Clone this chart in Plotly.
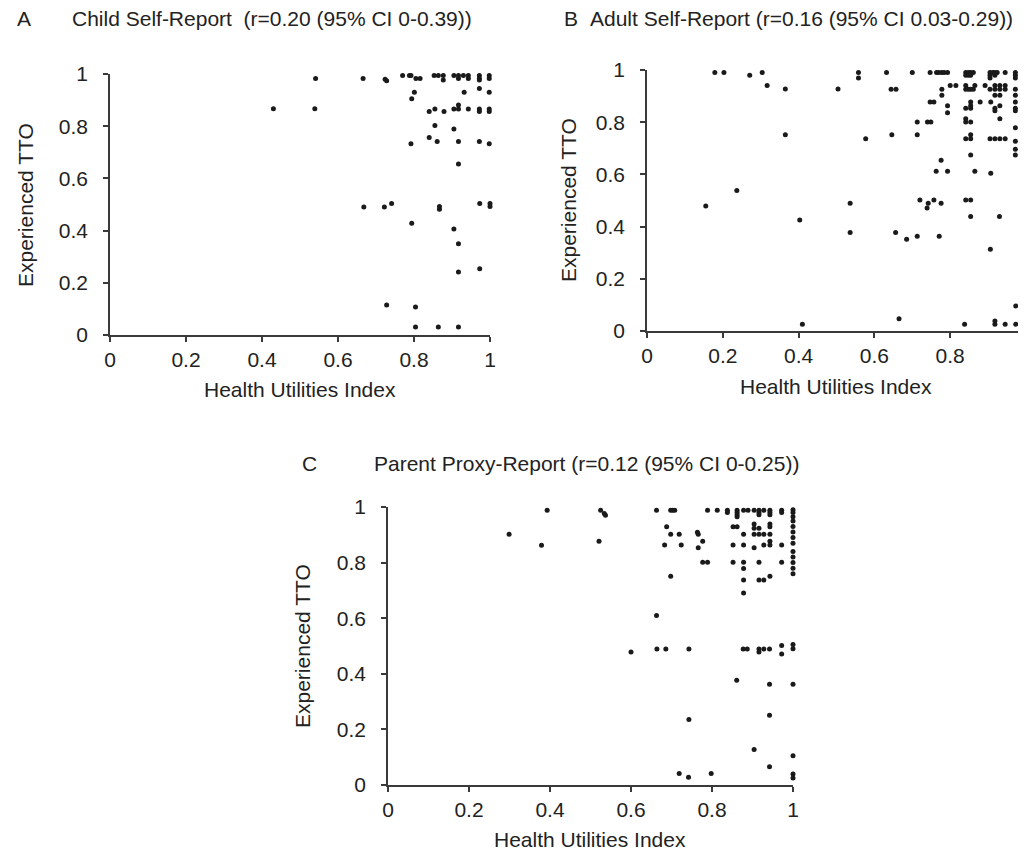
import plotly.graph_objects as go

# ---------------- data ----------------
child_hui = [0.541, 0.666, 0.724, 0.728, 0.430, 0.539, 0.668, 0.722, 0.728, 0.770,
             0.788, 0.792, 0.805, 0.816, 0.853, 0.864, 0.877, 0.877, 0.905, 0.917,
             0.917, 0.930, 0.943, 0.943, 0.972, 0.972, 0.972, 0.998, 0.998, 0.801,
             0.794, 0.932, 0.972, 0.998, 0.840, 0.855, 0.879, 0.905, 0.917, 0.917,
             0.943, 0.972, 0.972, 0.998, 0.998, 0.855, 0.905, 0.840, 0.861, 0.917,
             0.972, 0.998, 0.792, 0.917, 0.741, 0.867, 0.867, 0.973, 1.000, 1.000,
             0.794, 0.905, 0.917, 0.917, 0.973, 0.804, 0.804, 0.864, 0.917]
child_tto = [0.983, 0.983, 0.980, 0.974, 0.867, 0.867, 0.490, 0.490, 0.115, 0.994,
             0.994, 0.994, 0.983, 0.983, 0.994, 0.994, 0.994, 0.977, 0.994, 0.994,
             0.983, 0.994, 0.994, 0.983, 0.994, 0.983, 0.977, 0.994, 0.983, 0.930,
             0.905, 0.930, 0.944, 0.930, 0.856, 0.866, 0.856, 0.866, 0.881, 0.866,
             0.866, 0.866, 0.856, 0.866, 0.856, 0.803, 0.789, 0.757, 0.741, 0.741,
             0.741, 0.733, 0.733, 0.655, 0.504, 0.492, 0.482, 0.504, 0.504, 0.492,
             0.428, 0.406, 0.350, 0.241, 0.254, 0.107, 0.031, 0.031, 0.031]

adult_hui = [0.179, 0.203, 0.271, 0.304, 0.317, 0.365, 0.504, 0.365, 0.237, 0.155, 0.403, 0.410,
             0.536, 0.536, 0.720, 0.742, 0.739, 0.757, 0.776, 0.841, 0.854, 0.854, 0.930,
             0.997, 0.997, 0.997, 0.656, 0.685, 0.713, 0.771, 0.906, 0.997, 0.973, 0.665,
             0.838, 0.918, 0.918, 0.945, 0.973, 0.997,
             # 0.990 row
             0.558, 0.632, 0.700, 0.747, 0.764, 0.770, 0.778, 0.784, 0.793, 0.841, 0.848,
             0.854, 0.861, 0.905, 0.912, 0.918, 0.924, 0.945, 0.972, 0.997,
             # 0.980 row
             0.841, 0.848, 0.854, 0.905, 0.918, 0.972, 0.997,
             # 0.969 row
             0.558, 0.905, 0.972, 0.997,
             # 0.941 row
             0.800, 0.815, 0.841, 0.865, 0.892, 0.918, 0.931, 0.945,
             # 0.926 row
             0.644, 0.657, 0.778, 0.841, 0.848, 0.854, 0.861, 0.905, 0.918, 0.931, 0.945, 0.972, 0.997,
             # 0.903 row
             0.778, 0.918, 0.931, 0.972, 0.997,
             # 0.877 row
             0.747, 0.757, 0.854, 0.879, 0.907, 0.972, 0.997,
             # 0.863 row
             0.793, 0.854, 0.931,
             # 0.853 row
             0.841, 0.854, 0.918, 0.972,
             # 0.844 row
             0.918, 0.972,
             0.793,
             0.841, 0.931,
             0.713, 0.740, 0.749, 0.841, 0.854,
             0.972,
             0.646, 0.713, 0.854,
             0.577, 0.841, 0.854, 0.905, 0.918, 0.931, 0.945, 0.997,
             0.972, 0.972,
             0.854, 0.972, 0.997,
             0.776,
             0.763, 0.793, 0.865,
             0.907]
adult_tto = [0.990, 0.990, 0.980, 0.990, 0.941, 0.927, 0.927, 0.752, 0.538, 0.479, 0.425, 0.026,
             0.489, 0.377, 0.502, 0.489, 0.471, 0.502, 0.489, 0.502, 0.502, 0.439, 0.439,
             0.502, 0.489, 0.478, 0.377, 0.352, 0.363, 0.363, 0.313, 0.236, 0.096, 0.047,
             0.026, 0.038, 0.026, 0.026, 0.026, 0.026,
             0.990, 0.990, 0.990, 0.990, 0.990, 0.990, 0.990, 0.990, 0.990, 0.990, 0.990,
             0.990, 0.990, 0.990, 0.990, 0.990, 0.990, 0.990, 0.990, 0.990,
             0.980, 0.980, 0.980, 0.980, 0.980, 0.980, 0.980,
             0.969, 0.969, 0.969, 0.969,
             0.941, 0.941, 0.941, 0.941, 0.941, 0.941, 0.941, 0.941,
             0.926, 0.926, 0.926, 0.926, 0.926, 0.926, 0.926, 0.926, 0.926, 0.926, 0.926, 0.926, 0.926,
             0.903, 0.903, 0.903, 0.903, 0.903,
             0.877, 0.877, 0.877, 0.877, 0.877, 0.877, 0.877,
             0.863, 0.863, 0.863,
             0.853, 0.853, 0.853, 0.853,
             0.844, 0.844,
             0.836,
             0.813, 0.813,
             0.801, 0.801, 0.801, 0.801, 0.801,
             0.779,
             0.752, 0.752, 0.752,
             0.737, 0.737, 0.737, 0.737, 0.737, 0.737, 0.737, 0.737,
             0.727, 0.696,
             0.674, 0.674, 0.674,
             0.654,
             0.612, 0.612, 0.612,
             0.604]

parent_hui = [0.299, 0.393, 0.379, 0.525, 0.534, 0.537, 0.521,
              # 0.988 row
              0.663, 0.698, 0.703, 0.708, 0.789, 0.813, 0.838, 0.862, 0.878, 0.889, 0.904,
              0.916, 0.928, 0.943, 0.972,
              0.838, 0.862, 0.916, 0.943, 0.972,
              0.862, 0.916, 0.943,
              0.862,
              0.904, 0.943,
              0.688, 0.852, 0.862, 0.943,
              0.904, 0.916,
              0.764,
              0.698, 0.719, 0.766, 0.878, 0.904, 0.916, 0.928, 0.943,
              0.777, 0.943,
              0.683, 0.724, 0.852, 0.878, 0.928, 0.943, 0.972,
              0.766, 0.904,
              0.777, 0.789, 0.852, 0.878, 0.916, 0.972,
              0.878,
              0.698, 0.943,
              0.878, 0.916, 0.928,
              0.878,
              0.663,
              0.600, 0.664, 0.686, 0.743, 0.877, 0.887, 0.916, 0.916, 0.928, 0.942, 0.972, 0.972,
              0.861, 0.942, 0.743, 0.942, 0.904, 0.942, 0.719, 0.742, 0.798,
              # HUI = 1 column
              1.0, 1.0, 1.0, 1.0, 1.0, 1.0, 1.0, 1.0, 1.0, 1.0, 1.0, 1.0, 1.0,
              1.0, 1.0, 1.0, 1.0, 1.0, 1.0]
parent_tto = [0.902, 0.988, 0.862, 0.988, 0.977, 0.970, 0.877,
              0.988, 0.988, 0.988, 0.988, 0.988, 0.988, 0.988, 0.988, 0.988, 0.988, 0.988,
              0.988, 0.988, 0.988, 0.988,
              0.980, 0.980, 0.980, 0.980, 0.980,
              0.972, 0.972, 0.972,
              0.965,
              0.939, 0.939,
              0.929, 0.929, 0.929, 0.929,
              0.924, 0.924,
              0.909,
              0.902, 0.902, 0.902, 0.902, 0.902, 0.902, 0.902, 0.902,
              0.877, 0.877,
              0.863, 0.863, 0.863, 0.863, 0.863, 0.863, 0.863,
              0.853, 0.853,
              0.801, 0.801, 0.801, 0.801, 0.801, 0.801,
              0.779,
              0.751, 0.751,
              0.737, 0.737, 0.737,
              0.691,
              0.610,
              0.478, 0.489, 0.489, 0.489, 0.489, 0.489, 0.489, 0.478, 0.489, 0.489, 0.502, 0.471,
              0.377, 0.362, 0.236, 0.251, 0.128, 0.066, 0.041, 0.028, 0.041,
              0.990, 0.980, 0.965, 0.950, 0.930, 0.910, 0.890, 0.870, 0.840, 0.820, 0.800, 0.780, 0.760,
              0.505, 0.490, 0.362, 0.105, 0.040, 0.025]

tick_vals = [0, 0.2, 0.4, 0.6, 0.8, 1]
tick_text = ["0", "0.2", "0.4", "0.6", "0.8", "1"]

panel_letters = ["A", "B", "C"]
panel_titles = ["Child Self-Report  (r=0.20 (95% CI 0-0.39))",
                "Adult Self-Report (r=0.16 (95% CI 0.03-0.29))",
                "Parent Proxy-Report (r=0.12 (95% CI 0-0.25))"]
x_title = "Health Utilities Index"
y_title = "Experienced TTO"

# ---------------- layout ----------------
OFF = 8                      # page body margin of the html page
W, H = 1026 - OFF, 857 - OFF
FONT = "Liberation Sans, Arial, Helvetica, sans-serif"
FS = 21
INK = "#222222"
AXC = "#3a3a3a"

def fx(p):
    return (p - OFF) / W

def fy(p):
    return 1 - (p - OFF) / H

# plot-area pixel boxes in window coordinates: (left, right, top, bottom)
boxes = [(110, 490, 74, 335), (647, 1026, 70, 331), (388, 793, 507, 785)]

fig = go.Figure()
series = [(child_hui, child_tto), (adult_hui, adult_tto), (parent_hui, parent_tto)]
for i, (xs, ys) in enumerate(series):
    sfx = "" if i == 0 else str(i + 1)
    fig.add_trace(go.Scatter(x=xs, y=ys, mode="markers", xaxis="x" + sfx, yaxis="y" + sfx,
                             marker=dict(size=5, color="#1a1a1a", line=dict(width=0)),
                             cliponaxis=False, showlegend=False, hoverinfo="x+y"))

axis_common = dict(range=[0, 1], tickvals=tick_vals, ticktext=tick_text, showgrid=False,
                   zeroline=False, showline=True, linecolor=AXC, linewidth=1.5,
                   ticks="outside", ticklen=5, tickwidth=1.5, tickcolor=AXC,
                   tickfont=dict(family=FONT, size=FS, color=INK), fixedrange=True,
                   automargin=False, ticklabeloverflow="allow")

layout = dict(width=W, height=H, margin=dict(l=0, r=0, t=0, b=0, autoexpand=False),
              paper_bgcolor="white", plot_bgcolor="white", showlegend=False)
annotations = []
for i, (l, r, t, b) in enumerate(boxes):
    sfx = "" if i == 0 else str(i + 1)
    xa = dict(axis_common, domain=[fx(l), min(1.0, fx(r))], anchor="y" + sfx, ticklabelstandoff=0)
    ya = dict(axis_common, domain=[fy(b), fy(t)], anchor="x" + sfx, ticklabelstandoff=11)
    layout["xaxis" + sfx] = xa
    layout["yaxis" + sfx] = ya

text_font = dict(family=FONT, size=FS, color=INK)
# panel letters, titles and axis titles (window pixel positions)
letter_pos = [(15, 19), (562, 19), (300, 463)]
title_pos = [(70, 19), (588, 19), (372, 463)]
xt_pos = [(300, 389), (836, 386), (590, 839)]
yt_pos = [(25, 205), (568, 200), (302, 646)]
for i in range(3):
    annotations.append(dict(text=panel_letters[i], x=fx(letter_pos[i][0]), y=fy(letter_pos[i][1]),
                            xref="paper", yref="paper", xanchor="left", yanchor="middle",
                            showarrow=False, font=text_font))
    annotations.append(dict(text=panel_titles[i], x=fx(title_pos[i][0]), y=fy(title_pos[i][1]),
                            xref="paper", yref="paper", xanchor="left", yanchor="middle",
                            showarrow=False, font=text_font))
    annotations.append(dict(text=x_title, x=fx(xt_pos[i][0]), y=fy(xt_pos[i][1]),
                            xref="paper", yref="paper", xanchor="center", yanchor="middle",
                            showarrow=False, font=text_font))
    annotations.append(dict(text=y_title, x=fx(yt_pos[i][0]), y=fy(yt_pos[i][1]),
                            xref="paper", yref="paper", xanchor="center", yanchor="middle",
                            textangle=-90, showarrow=False, font=text_font))
layout["annotations"] = annotations
fig.update_layout(**layout)

fig.write_html("out.html")
